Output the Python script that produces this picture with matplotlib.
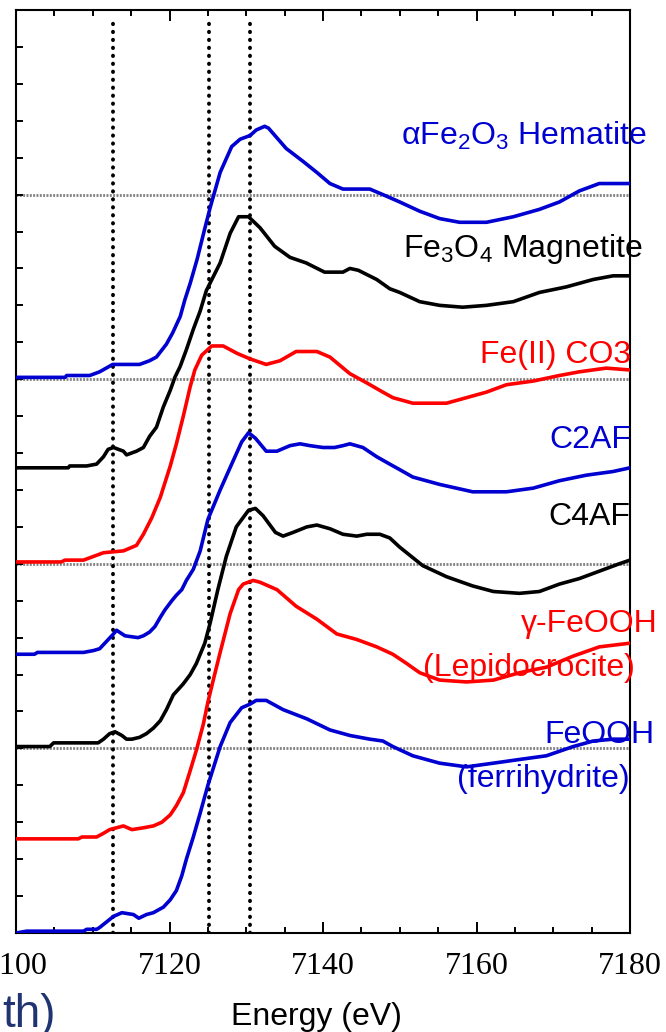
import matplotlib
matplotlib.use("Agg")
import matplotlib.pyplot as plt
from matplotlib.ticker import MultipleLocator

plt.rcParams["mathtext.fontset"] = "custom"
plt.rcParams["mathtext.rm"] = "Liberation Sans"
plt.rcParams["mathtext.it"] = "Liberation Sans"

# Fe K-edge XANES spectra, stacked (energy in eV, normalised absorbance + offset)
hem_e = [7100, 7106.4, 7106.6, 7109.6, 7110.9, 7112.6, 7116.1, 7117.4, 7118.3, 7119.6,
         7120.4, 7121.4, 7122.0, 7122.7, 7123.6, 7124.5, 7125.3, 7126.6, 7128.1, 7129.2,
         7130.5, 7131.3, 7132.4, 7132.9, 7135.2, 7137.4, 7139.2, 7140.9, 7142.6, 7146.1,
         7147.8, 7150.0, 7152.6, 7155.2, 7157.8, 7161.3, 7164.8, 7168.2, 7170.8, 7173.4,
         7176.0, 7180]
hem_y = [3.01, 3.01, 3.02, 3.02, 3.04, 3.08, 3.08, 3.10, 3.12, 3.19,
         3.25, 3.34, 3.43, 3.52, 3.65, 3.80, 3.93, 4.12, 4.26, 4.30,
         4.32, 4.35, 4.37, 4.36, 4.25, 4.18, 4.12, 4.06, 4.03, 4.03,
         4.00, 3.96, 3.91, 3.87, 3.85, 3.85, 3.88, 3.92, 3.96, 4.02,
         4.06, 4.06]

mag_e = [7100, 7106.8, 7107.0, 7109.2, 7110.5, 7111.4, 7112.0, 7112.7, 7114.0, 7114.4,
         7115.7, 7116.6, 7117.4, 7118.3, 7119.2, 7120.1, 7120.7, 7121.4, 7122.2, 7123.1,
         7124.0, 7124.8, 7126.6, 7127.9, 7129.0, 7130.3, 7131.8, 7133.7, 7135.7, 7137.8,
         7140.2, 7142.6, 7143.5, 7144.6, 7147.0, 7148.7, 7150, 7152.6, 7155.2, 7158.2,
         7161.3, 7164.8, 7168.2, 7171.7, 7175.2, 7177.8, 7180]
mag_y = [2.52, 2.52, 2.53, 2.53, 2.54, 2.58, 2.62, 2.63, 2.61, 2.59,
         2.61, 2.63, 2.69, 2.74, 2.85, 2.94, 3.01, 3.07, 3.16, 3.27,
         3.37, 3.48, 3.63, 3.79, 3.88, 3.88, 3.82, 3.72, 3.66, 3.63,
         3.58, 3.58, 3.60, 3.59, 3.54, 3.49, 3.47, 3.42, 3.40, 3.39,
         3.40, 3.42, 3.47, 3.50, 3.54, 3.56, 3.56]

sid_e = [7100, 7105.9, 7106.4, 7108.8, 7110.1, 7111.4, 7114.0, 7115.7, 7116.6, 7117.7,
         7118.8, 7120.1, 7120.9, 7121.8, 7122.7, 7123.3, 7124.2, 7125.5, 7127.0, 7128.8,
         7130.5, 7132.6, 7134.4, 7136.5, 7139.2, 7140.9, 7143.5, 7145.7, 7147.8, 7149.1,
         7151.7, 7156.1, 7158.7, 7161.3, 7163.9, 7167.4, 7170.8, 7173.4, 7176.9, 7180]
sid_y = [2.01, 2.01, 2.02, 2.02, 2.04, 2.06, 2.07, 2.10, 2.16, 2.25,
         2.36, 2.53, 2.65, 2.80, 2.96, 3.05, 3.13, 3.18, 3.18, 3.14,
         3.11, 3.08, 3.10, 3.15, 3.15, 3.12, 3.03, 2.98, 2.93, 2.90,
         2.87, 2.87, 2.90, 2.93, 2.97, 2.99, 3.02, 3.04, 3.06, 3.05]

c2af_e = [7100, 7102.4, 7102.8, 7108.8, 7110.1, 7110.9, 7111.8, 7112.7, 7113.1, 7114.2,
          7115.9, 7116.6, 7117.4, 7118.1, 7118.8, 7119.4, 7120.3, 7120.9, 7121.6, 7122.2,
          7123.1, 7124.0, 7125.0, 7126.6, 7128.1, 7129.4, 7130.3, 7131.2, 7132.6, 7134.0,
          7135.7, 7137.0, 7138.3, 7140.0, 7141.5, 7142.6, 7143.5, 7145.2, 7147.0, 7148.7,
          7150, 7151.7, 7155.2, 7159.5, 7163.9, 7167.4, 7170.8, 7174.3, 7177.8, 7180]
c2af_y = [1.51, 1.51, 1.52, 1.52, 1.53, 1.54, 1.58, 1.62, 1.64, 1.61,
          1.60, 1.61, 1.63, 1.66, 1.71, 1.75, 1.80, 1.83, 1.86, 1.91,
          1.97, 2.07, 2.24, 2.40, 2.54, 2.66, 2.71, 2.68, 2.61, 2.61,
          2.64, 2.65, 2.64, 2.63, 2.63, 2.64, 2.65, 2.63, 2.58, 2.54,
          2.51, 2.47, 2.43, 2.39, 2.39, 2.41, 2.45, 2.48, 2.50, 2.52]

c4af_e = [7100, 7104.4, 7104.9, 7110.7, 7111.4, 7112.2, 7112.9, 7113.8, 7114.4, 7115.1,
          7116.1, 7117.0, 7117.9, 7118.8, 7119.6, 7120.5, 7121.8, 7122.7, 7123.5, 7124.6,
          7125.3, 7126.3, 7127.4, 7128.7, 7130.3, 7131.2, 7132.2, 7133.8, 7134.8, 7136.1,
          7137.9, 7139.2, 7140.9, 7142.6, 7144.4, 7145.7, 7147.4, 7148.7, 7150.0, 7150.9,
          7153.0, 7156.1, 7159.5, 7162.2, 7165.6, 7168.2, 7170.8, 7173.4, 7176.0, 7178.6,
          7180]
c4af_y = [1.01, 1.01, 1.03, 1.03, 1.05, 1.08, 1.09, 1.07, 1.05, 1.05,
          1.06, 1.08, 1.11, 1.15, 1.21, 1.29, 1.35, 1.40, 1.46, 1.57,
          1.68, 1.86, 2.04, 2.20, 2.29, 2.30, 2.26, 2.17, 2.15, 2.17,
          2.20, 2.21, 2.19, 2.16, 2.15, 2.16, 2.16, 2.14, 2.09, 2.06,
          1.99, 1.93, 1.88, 1.85, 1.84, 1.85, 1.89, 1.92, 1.96, 2.00,
          2.02]

lep_e = [7100, 7108.1, 7108.6, 7110.5, 7111.4, 7112.2, 7113.1, 7114.0, 7115.1, 7116.6,
         7117.9, 7119.0, 7120.1, 7120.9, 7121.8, 7122.7, 7123.5, 7124.4, 7125.0, 7125.7,
         7126.6, 7127.9, 7129.0, 7129.6, 7130.9, 7131.8, 7134.0, 7136.5, 7139.2, 7141.8,
         7144.4, 7147.0, 7149.1, 7150.9, 7152.6, 7155.2, 7158.7, 7162.2, 7165.6, 7169.1,
         7172.6, 7176.0, 7180]
lep_y = [0.51, 0.51, 0.52, 0.52, 0.54, 0.56, 0.57, 0.58, 0.56, 0.57,
         0.58, 0.60, 0.64, 0.69, 0.76, 0.88, 0.99, 1.13, 1.25, 1.37,
         1.52, 1.73, 1.86, 1.89, 1.91, 1.90, 1.86, 1.77, 1.70, 1.62,
         1.59, 1.55, 1.51, 1.46, 1.41, 1.37, 1.36, 1.37, 1.41, 1.44,
         1.50, 1.55, 1.57]

fhy_e = [7100, 7101.4, 7108.8, 7109.2, 7110.5, 7110.9, 7111.8, 7112.7, 7113.8, 7115.3,
         7116.0, 7117.0, 7117.9, 7119.2, 7120.1, 7120.9, 7121.6, 7122.2, 7123.1, 7124.0,
         7125.0, 7126.6, 7127.9, 7129.4, 7130.5, 7131.3, 7132.6, 7134.8, 7137.9, 7140.9,
         7143.5, 7146.1, 7147.8, 7149.1, 7151.7, 7155.2, 7158.7, 7162.2, 7165.6, 7169.1,
         7172.6, 7175.2, 7177.8, 7180]
fhy_y = [0.00, 0.01, 0.01, 0.02, 0.02, 0.03, 0.06, 0.09, 0.11, 0.10,
         0.08, 0.10, 0.11, 0.14, 0.18, 0.23, 0.31, 0.40, 0.52, 0.65,
         0.80, 1.01, 1.14, 1.22, 1.24, 1.26, 1.26, 1.21, 1.16, 1.10,
         1.07, 1.05, 1.04, 1.01, 0.96, 0.92, 0.90, 0.92, 0.94, 0.96,
         1.01, 1.04, 1.05, 1.05]

edge_marks = [7112.6, 7125.1, 7130.5]
baselines = [0, 1, 2, 3, 4]

BLUE = "#0000d0"
RED = "#ff0000"
curves = [
    (hem_e, hem_y, BLUE),
    (mag_e, mag_y, "black"),
    (sid_e, sid_y, RED),
    (c2af_e, c2af_y, BLUE),
    (c4af_e, c4af_y, "black"),
    (lep_e, lep_y, RED),
    (fhy_e, fhy_y, BLUE),
]

fig = plt.figure(figsize=(6.66, 10.32), dpi=100)
ax = fig.add_axes([16 / 666, 99 / 1032, 614 / 666, 923 / 1032])

for y0 in baselines:
    ax.axhline(y0, color="#808080", lw=2.0, ls=(0, (0.7, 0.5)), zorder=1)

ax.vlines(edge_marks, 0, 4.94, colors="black", lw=2.8,
          linestyles=(0, (0.1, 1.95)), capstyle="round", zorder=2)

for e, y, c in curves:
    ax.plot(e, y, color=c, lw=2.6, zorder=3, solid_joinstyle="round")

ax.set_xlim(7100, 7180)
ax.set_ylim(0, 5)

ax.xaxis.set_major_locator(MultipleLocator(20))
ax.xaxis.set_minor_locator(MultipleLocator(5))
ax.yaxis.set_major_locator(MultipleLocator(1))
ax.yaxis.set_minor_locator(MultipleLocator(0.2))
ax.tick_params(axis="x", which="both", direction="in", top=True, width=1.4)
ax.tick_params(axis="x", which="major", length=8, pad=14)
ax.tick_params(axis="x", which="minor", length=4.5)
ax.tick_params(axis="y", which="both", direction="in", left=True, right=False,
               labelleft=False, width=1.4, length=5)
for lab in ax.get_xticklabels():
    lab.set_fontfamily("Liberation Serif")
    lab.set_fontsize(23)
for s in ax.spines.values():
    s.set_linewidth(1.5)

sans = "Liberation Sans"
fs = 23
labels = [
    (7182.2, 4.27, r"$\alpha$Fe$_2$O$_3$ Hematite", BLUE),
    (7181.6, 3.66, r"Fe$_3$O$_4$ Magnetite", "black"),
    (7180.2, 3.09, "Fe(II) CO3", RED),
    (7180.2, 2.63, "C2AF", BLUE),
    (7180.0, 2.21, "C4AF", "black"),
    (7183.6, 1.63, "\u03b3-FeOOH", RED),
    (7180.6, 1.39, "(Lepidocrocite)", RED),
    (7183.2, 1.03, "FeOOH", BLUE),
    (7180.0, 0.79, "(ferrihydrite)", BLUE),
]
for x, y, txt, c in labels:
    ax.text(x, y, txt, color=c, fontsize=fs, family=sans, ha="right",
            va="baseline", clip_on=False, zorder=4)

fig.text(316 / 666, 7 / 1032, "Energy (eV)", fontsize=fs, family=sans,
         ha="center", va="baseline")
fig.text(56 / 666, 5 / 1032, "th)", fontsize=33, family=sans,
         color="#1f3470", ha="right", va="baseline")

fig.savefig("out.png", dpi=100)
